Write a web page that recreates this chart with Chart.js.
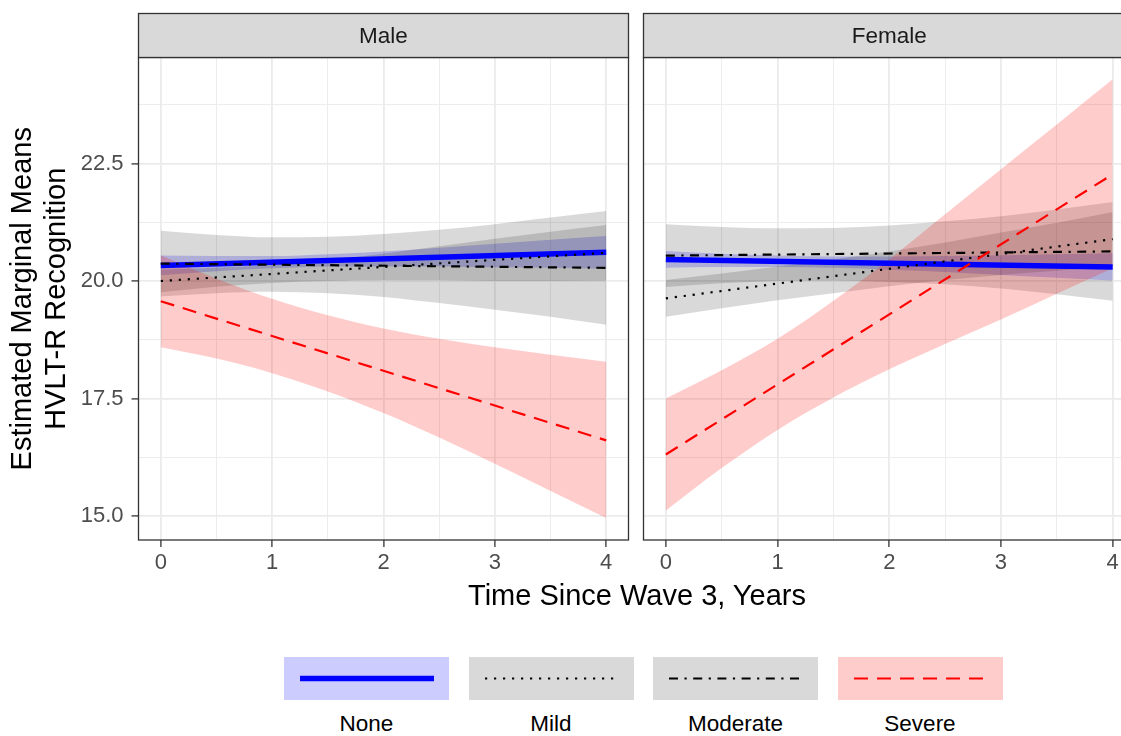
<!DOCTYPE html>
<html>
<head>
<meta charset="utf-8">
<title>HVLT-R Recognition by sex</title>
<script src="https://cdn.jsdelivr.net/npm/chart.js@4.4.1/dist/chart.umd.min.js"></script>
<style>
  html, body { margin: 0; padding: 0; background: #fff; overflow: hidden; }
  #page { position: relative; width: 1121px; height: 736px; overflow: hidden; font-family: "Liberation Sans", Arial, sans-serif; }
  canvas { position: absolute; top: 0; }
  #maleChart { left: 0; }
  #femaleChart { left: 640px; }
  #xTitle { position: absolute; left: 337px; top: 578px; width: 600px; text-align: center; font-size: 29px; line-height: 34px; color: #000; }
  .key { position: absolute; top: 657px; width: 165px; height: 43px; }
  .key svg { display: block; }
  .keyLabel { position: absolute; top: 710px; width: 165px; text-align: center; font-size: 22.5px; line-height: 28px; color: #000; }
</style>
</head>
<body>
<div id="page">
  <canvas id="maleChart" width="640" height="580"></canvas>
  <canvas id="femaleChart" width="500" height="580"></canvas>
  <div id="xTitle">Time Since Wave 3, Years</div>
</div>
<script>
const PANELS = ["Male", "Female"];
const SEVERITY = ["None", "Mild", "Moderate", "Severe"];
const X_TITLE = "Time Since Wave 3, Years";
const Y_TITLE = ["Estimated Marginal Means", "HVLT-R Recognition"];

const TIME = [0, 0.5, 1, 1.5, 2, 2.5, 3, 3.5, 4];
const LINE_TIME = [0, 4];
const X_TICKS = [0, 1, 2, 3, 4];
const X_MINOR = [0.5, 1.5, 2.5, 3.5];
const Y_TICKS = [15, 17.5, 20, 22.5];
const Y_MINOR = [16.25, 18.75, 21.25, 23.75];
const X_RANGE = [-0.2, 4.2];
const Y_RANGE = [14.49, 24.755];

// fitted lines (value at year 0 and year 4)
const MALE_NONE = [20.33, 20.61];
const MALE_MILD = [20.0, 20.6];
const MALE_MODERATE = [20.37, 20.28];
const MALE_SEVERE = [19.57, 16.61];

const FEMALE_NONE = [20.46, 20.3];
const FEMALE_MILD = [19.63, 20.89];
const FEMALE_MODERATE = [20.54, 20.63];
const FEMALE_SEVERE = [16.31, 22.27];

// confidence bands, one value per TIME point
const MALE_NONE_HI = [20.54, 20.53, 20.53, 20.57, 20.63, 20.71, 20.79, 20.88, 20.96];
const MALE_NONE_LO = [20.12, 20.21, 20.27, 20.31, 20.31, 20.31, 20.29, 20.28, 20.26];
const MALE_MILD_HI = [20.24, 20.28, 20.34, 20.45, 20.58, 20.74, 20.9, 21.05, 21.19];
const MALE_MILD_LO = [19.76, 19.88, 19.96, 20.0, 20.02, 20.02, 20.0, 20.0, 20.01];
const MALE_MOD_HI = [21.07, 20.98, 20.93, 20.94, 21.0, 21.09, 21.21, 21.35, 21.49];
const MALE_MOD_LO = [19.67, 19.74, 19.77, 19.74, 19.66, 19.53, 19.39, 19.24, 19.07];
const MALE_SEV_HI = [20.55, 20.05, 19.62, 19.27, 18.99, 18.77, 18.59, 18.43, 18.28];
const MALE_SEV_LO = [18.59, 18.35, 18.04, 17.65, 17.19, 16.67, 16.11, 15.53, 14.96];

const FEMALE_NONE_HI = [20.64, 20.58, 20.54, 20.52, 20.52, 20.53, 20.55, 20.57, 20.59];
const FEMALE_NONE_LO = [20.28, 20.3, 20.3, 20.28, 20.24, 20.19, 20.13, 20.07, 20.01];
const FEMALE_MILD_HI = [20.02, 20.16, 20.31, 20.46, 20.63, 20.82, 21.03, 21.24, 21.47];
const FEMALE_MILD_LO = [19.24, 19.42, 19.59, 19.74, 19.89, 20.02, 20.13, 20.22, 20.31];
const FEMALE_MOD_HI = [21.21, 21.15, 21.12, 21.13, 21.18, 21.27, 21.38, 21.52, 21.68];
const FEMALE_MOD_LO = [19.87, 19.95, 20.0, 20.01, 19.98, 19.93, 19.84, 19.72, 19.58];
const FEMALE_SEV_HI = [17.5, 18.1, 18.77, 19.58, 20.46, 21.42, 22.38, 23.33, 24.29];
const FEMALE_SEV_LO = [15.12, 16.02, 16.83, 17.52, 18.12, 18.66, 19.18, 19.73, 20.27];

const FONT = "'Liberation Sans', Arial, sans-serif";
const STRIP_TOP = 13.5;
const LEGEND_LEFT = 284;
const LEGEND_STEP = 184.5;

const STYLE = {
  None: { line: "#0000ff", fill: "rgba(0, 0, 255, 0.2)", key: "#ccccff", width: 5.5, dash: [] },
  Mild: { line: "#000000", fill: "rgba(0, 0, 0, 0.15)", key: "#d9d9d9", width: 2.2, dash: [2.2, 6.8] },
  Moderate: { line: "#000000", fill: "rgba(0, 0, 0, 0.15)", key: "#d9d9d9", width: 2.2, dash: [9, 6.5, 2.2, 6.5] },
  Severe: { line: "#ff0000", fill: "rgba(255, 0, 0, 0.2)", key: "#ffcccc", width: 2.2, dash: [14, 9] },
};

function $(id) {
  return document.getElementById(id);
}

function points(xs, ys) {
  return xs.map((x, i) => ({ x: x, y: ys[i] }));
}

function buildDatasets(lines, highs, lows) {
  const sets = [];
  SEVERITY.forEach((name, i) => {
    const s = STYLE[name];
    const band = {
      pointRadius: 0,
      borderWidth: 0,
      borderColor: "rgba(0, 0, 0, 0)",
      cubicInterpolationMode: "monotone",
      order: 20 - i,
    };
    sets.push(Object.assign({ label: name + " upper", data: points(TIME, highs[i]), fill: "+1", backgroundColor: s.fill }, band));
    sets.push(Object.assign({ label: name + " lower", data: points(TIME, lows[i]), fill: false }, band));
  });
  SEVERITY.forEach((name, i) => {
    const s = STYLE[name];
    sets.push({
      label: name,
      data: points(LINE_TIME, lines[i]),
      borderColor: s.line,
      borderWidth: s.width,
      borderDash: s.dash,
      borderCapStyle: "butt",
      fill: false,
      pointRadius: 0,
      order: 10 - i,
    });
  });
  return sets;
}

// panel border + facet strip, drawn over the data like ggplot does
const panelFrame = {
  id: "panelFrame",
  afterDraw(chart, args, opts) {
    const { ctx, chartArea } = chart;
    const { left, right, top, bottom } = chartArea;
    ctx.save();
    ctx.lineWidth = 1.3;
    ctx.strokeStyle = "#333333";
    ctx.strokeRect(left, top, right - left, bottom - top);
    ctx.fillStyle = "#d9d9d9";
    ctx.fillRect(left, STRIP_TOP, right - left, top - STRIP_TOP);
    ctx.strokeRect(left, STRIP_TOP, right - left, top - STRIP_TOP);
    ctx.fillStyle = "#1a1a1a";
    ctx.font = "22.5px " + FONT;
    ctx.textAlign = "center";
    ctx.textBaseline = "middle";
    ctx.fillText(opts.label, (left + right) / 2, (STRIP_TOP + top) / 2 + 1);
    ctx.restore();
  },
};

function isIn(list, v) {
  return list.some((t) => Math.abs(t - v) < 1e-9);
}

function gridStyle(list) {
  return {
    color: "#ebebeb",
    lineWidth: (c) => (isIn(list, c.tick.value) ? 1.8 : 0.9),
    tickColor: (c) => (isIn(list, c.tick.value) ? "#333333" : "rgba(0, 0, 0, 0)"),
    tickWidth: 1.3,
    tickLength: 7,
  };
}

function makeChart(id, label, lines, highs, lows, isFirst) {
  return new Chart($(id), {
    type: "line",
    data: { datasets: buildDatasets(lines, highs, lows) },
    options: {
      responsive: false,
      animation: false,
      devicePixelRatio: 1,
      events: [],
      layout: { padding: { top: 57.5, right: isFirst ? 11.5 : 5, left: 0, bottom: 0 } },
      plugins: {
        legend: { display: false },
        tooltip: { enabled: false },
        panelFrame: { label: label },
      },
      scales: {
        x: {
          type: "linear",
          min: X_RANGE[0],
          max: X_RANGE[1],
          afterBuildTicks: (s) => {
            s.ticks = X_TICKS.concat(X_MINOR).sort((a, b) => a - b).map((v) => ({ value: v }));
          },
          afterFit: (s) => {
            s.height = 40;
          },
          ticks: {
            autoSkip: false,
            maxRotation: 0,
            padding: 3,
            color: "#4d4d4d",
            font: { family: FONT, size: 22 },
            callback: (v) => (isIn(X_TICKS, v) ? String(v) : ""),
          },
          grid: gridStyle(X_TICKS),
          border: { display: false },
        },
        y: {
          type: "linear",
          min: Y_RANGE[0],
          max: Y_RANGE[1],
          afterBuildTicks: (s) => {
            s.ticks = Y_TICKS.concat(Y_MINOR).sort((a, b) => a - b).map((v) => ({ value: v }));
          },
          afterFit: (s) => {
            s.width = isFirst ? 138.5 : 3.5;
          },
          title: {
            display: isFirst,
            text: Y_TITLE,
            color: "#000000",
            font: { family: FONT, size: 29, lineHeight: 1.17 },
            padding: { top: 6, bottom: 0 },
          },
          ticks: {
            display: isFirst,
            autoSkip: false,
            padding: 8,
            color: "#4d4d4d",
            font: { family: FONT, size: 22 },
            callback: (v) => (isIn(Y_TICKS, v) ? v.toFixed(1) : ""),
          },
          grid: Object.assign(gridStyle(Y_TICKS), { drawTicks: isFirst }),
          border: { display: false },
        },
      },
    },
    plugins: [panelFrame],
  });
}

function buildLegend() {
  const page = $("page");
  SEVERITY.forEach((name, i) => {
    const s = STYLE[name];
    const left = LEGEND_LEFT + i * LEGEND_STEP;
    const key = document.createElement("div");
    key.className = "key";
    key.style.left = left + "px";
    key.style.background = s.key;
    const dash = s.dash.length ? s.dash.join(" ") : "none";
    key.innerHTML =
      `<svg width="165" height="43"><line x1="16" y1="21.5" x2="150" y2="21.5" ` +
      `stroke="${s.line}" stroke-width="${s.width}" stroke-dasharray="${dash}"/></svg>`;
    page.appendChild(key);

    const text = document.createElement("div");
    text.className = "keyLabel";
    text.style.left = left + "px";
    text.textContent = name;
    page.appendChild(text);
  });
}

$("xTitle").textContent = X_TITLE;

makeChart(
  "maleChart",
  PANELS[0],
  [MALE_NONE, MALE_MILD, MALE_MODERATE, MALE_SEVERE],
  [MALE_NONE_HI, MALE_MILD_HI, MALE_MOD_HI, MALE_SEV_HI],
  [MALE_NONE_LO, MALE_MILD_LO, MALE_MOD_LO, MALE_SEV_LO],
  true
);
makeChart(
  "femaleChart",
  PANELS[1],
  [FEMALE_NONE, FEMALE_MILD, FEMALE_MODERATE, FEMALE_SEVERE],
  [FEMALE_NONE_HI, FEMALE_MILD_HI, FEMALE_MOD_HI, FEMALE_SEV_HI],
  [FEMALE_NONE_LO, FEMALE_MILD_LO, FEMALE_MOD_LO, FEMALE_SEV_LO],
  false
);
buildLegend();
</script>
</body>
</html>
